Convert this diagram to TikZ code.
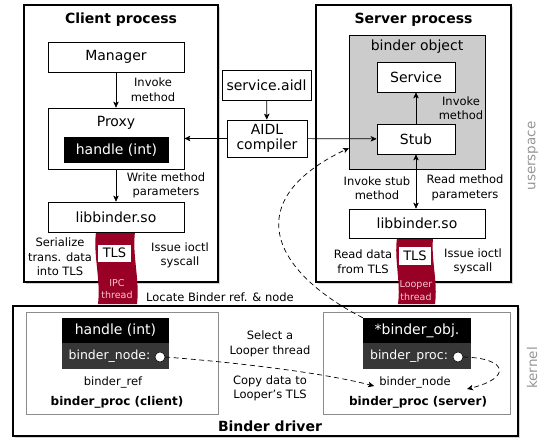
\documentclass[tikz,border=0pt]{standalone}
\usepackage{fontspec}
\setmainfont{DejaVu Sans}
\usetikzlibrary{arrows.meta,shadows}
\definecolor{bandred}{RGB}{153,0,38}
\definecolor{bandtxt}{RGB}{245,200,210}
\definecolor{objgray}{RGB}{204,204,204}
\definecolor{darkrow}{RGB}{55,55,55}
\definecolor{sidegray}{RGB}{150,150,150}
\begin{document}
\begin{tikzpicture}[x=1pt,y=-1pt,
  proc/.style={draw, line width=1.3pt, fill=white, inner sep=0pt,
    drop shadow={shadow xshift=1.5pt,shadow yshift=-1.5pt,opacity=0.35}},
  wbox/.style={draw, line width=0.7pt, fill=white, inner sep=0pt,
    drop shadow={shadow xshift=1.2pt,shadow yshift=-1.2pt,opacity=0.3},
    font=\fontsize{14}{16.5}\selectfont, align=center},
  kbox/.style={draw=black!45, line width=0.8pt, fill=white, inner sep=0pt,
    drop shadow={shadow xshift=1.2pt,shadow yshift=-1.2pt,opacity=0.3}},
  blk/.style={fill=black, text=white, inner sep=0pt, font=\fontsize{14}{17}\selectfont},
  drk/.style={fill=darkrow, inner sep=0pt},
  drktxt/.style={text=white, inner sep=0pt, font=\fontsize{12.5}{15}\selectfont},
  ttl/.style={font=\bfseries\fontsize{14}{17}\selectfont, inner sep=0pt},
  ktl/.style={font=\bfseries\fontsize{12}{15}\selectfont, inner sep=0pt},
  lbl/.style={font=\fontsize{11.5}{14.5}\selectfont, align=center, inner sep=0pt},
  side/.style={font=\fontsize{13.5}{16}\selectfont, text=sidegray, rotate=90, inner sep=0pt},
  arr/.style={-{Stealth[length=6pt,width=5.5pt,inset=1.5pt]}, line width=0.7pt},
  darr/.style={arr, dash pattern=on 5pt off 3.5pt},
  bandlbl/.style={text=bandtxt, font=\fontsize{9.5}{12.5}\selectfont, align=center, inner sep=0pt},
  dot/.style={circle, draw=black, line width=0.5pt, fill=white, minimum size=10pt, inner sep=0pt}
]
\useasboundingbox (0,0) rectangle (542,439);

% process boxes
\node[proc, minimum width=194pt, minimum height=277pt] (client) at (121,143.5) {};
\node[proc, minimum width=195pt, minimum height=277pt] (server) at (413.5,143.5) {};
\node[proc, minimum width=505pt, minimum height=130pt] (kernel) at (265.5,371) {};

\node[ttl] (ctitle) at (121,20) {Client process};
\node[ttl] (stitle) at (413.5,20) {Server process};
\node[ttl] (ktitle) at (270,426) {Binder driver};

% threads (bands)
\fill[bandred] (96,232) .. controls (93,255) and (101,280) .. (98,304)
  -- (137,304) .. controls (140,280) and (132,255) .. (135,232) -- cycle;
\fill[bandred] (397,238) .. controls (394,260) and (401,282) .. (398,304)
  -- (435,304) .. controls (438,282) and (431,260) .. (433,238) -- cycle;
\node[fill=white, minimum width=33pt, minimum height=17pt, inner sep=0pt,
  font=\fontsize{13}{15}\selectfont] (ctls) at (114.5,253) {TLS};
\node[fill=white, minimum width=32pt, minimum height=18pt, inner sep=0pt,
  font=\fontsize{13}{15}\selectfont] (stls) at (415,256) {TLS};
\node[bandlbl] (cthr) at (117,289) {IPC\\thread};
\node[bandlbl] (sthr) at (416,290.5) {Looper\\thread};

% client side
\node[wbox, minimum width=136pt, minimum height=30pt] (manager) at (116,57) {Manager};
\node[wbox, minimum width=136pt, minimum height=61pt] (proxy) at (116,138.5) {};
\node[font=\fontsize{14}{17}\selectfont, inner sep=0pt] (proxyt) at (116,123) {Proxy};
\node[blk, minimum width=105pt, minimum height=26pt] (phandle) at (116.5,150) {handle (int)};
\node[wbox, minimum width=136pt, minimum height=30pt] (clib) at (116,217) {libbinder.so};

\draw[arr] (manager) -- (proxy);
\draw[arr] (proxy) -- (clib);
\node[lbl] (l1) at (153,89.5) {Invoke\\method};
\node[lbl] (l2) at (166,185.5) {Write method\\parameters};
\node[lbl] (l3) at (60,257) {Serialize\\trans. data\\into TLS};
\node[lbl] (l4) at (180,255.5) {Issue ioctl\\syscall};
\node[lbl] (l5) at (220,297) {Locate Binder ref. \& node};

% AIDL
\node[wbox, minimum width=89pt, minimum height=30pt] (aidl) at (266.5,85) {service.aidl};
\node[wbox, minimum width=80pt, minimum height=37pt, font=\fontsize{14}{15}\selectfont] (aidlc) at (267,138.5) {AIDL\\compiler};
\draw[arr] (aidl) -- (aidlc);

% server side
\node[draw, line width=0.6pt, fill=objgray, minimum width=136pt, minimum height=134pt, inner sep=0pt] (bobj) at (417,102) {};
\node[font=\fontsize{14}{17}\selectfont, inner sep=0pt] (bobjt) at (417,47) {binder object};
\node[wbox, minimum width=78pt, minimum height=30pt] (service) at (416,77) {Service};
\node[wbox, minimum width=78pt, minimum height=30pt] (stub) at (416,139) {Stub};
\node[wbox, minimum width=136pt, minimum height=29pt] (slib) at (417,223.5) {libbinder.so};

\draw[arr] (aidlc) -- (proxy);
\draw[arr] (aidlc) -- (stub);
\draw[arr] (stub) -- (service);
\draw[arr, {Stealth[length=6pt,width=5.5pt,inset=1.5pt]}-{Stealth[length=6pt,width=5.5pt,inset=1.5pt]}] (stub.south) -- (stub.south |- slib.north);

\node[lbl] (l6) at (461,108) {Invoke\\method};
\node[lbl] (l7) at (377,188) {Invoke stub\\method};
\node[lbl] (l8) at (465,188) {Read method\\parameters};
\node[lbl] (l9) at (363,261.5) {Read data\\from TLS};
\node[lbl] (l10) at (473,261.5) {Issue ioctl\\syscall};

% side labels
\node[side] (us) at (533,156) {userspace};
\node[side] (kn) at (532,368) {kernel};

% kernel: client proc
\node[kbox, minimum width=192pt, minimum height=102pt] (cbp) at (122,363) {};
\node[blk, minimum width=107pt, minimum height=25pt] (chandle) at (115.5,330.5) {handle (int)};
\node[drk, minimum width=107pt, minimum height=26pt] (crow) at (115.5,356) {};
\node[drktxt] (cnodet) at (109.5,356.5) {binder\_node:};
\node[dot] (ccirc) at (160,357) {};
\node[lbl] (cref) at (113,382) {binder\_ref};
\node[ktl] (cbpt) at (117,402) {binder\_proc (client)};

% kernel: server proc
\node[kbox, minimum width=187pt, minimum height=102pt] (sbp) at (416.5,363) {};
\node[blk, minimum width=108pt, minimum height=25pt] (sobj) at (417,330.5) {*binder\_obj.};
\node[drk, minimum width=108pt, minimum height=26pt] (srow) at (417,356) {};
\node[drktxt] (sproct) at (409,356.5) {binder\_proc:};
\node[dot] (scirc) at (458,357) {};
\node[lbl] (snode) at (415,382) {binder\_node};
\node[ktl] (sbpt) at (418,402) {binder\_proc (server)};

\node[lbl] (l11) at (270,344) {Select a\\Looper thread};
\node[lbl] (l12) at (270,388.5) {Copy data to\\Looper's TLS};

% dashed connectors
\coordinate (sloopend) at (467,389);
\coordinate (bobjin) at (349,148);
\draw[darr] (ccirc.east) .. controls (230,362) and (320,372) .. ([xshift=-5pt,yshift=-4pt]snode.west);
\draw[darr] (scirc.east) .. controls (508,358) and (512,378) .. (sloopend);
\draw[darr] (sobj.north west) .. controls (270,270) and (240,200) .. (bobjin);
\end{tikzpicture}
\end{document}
